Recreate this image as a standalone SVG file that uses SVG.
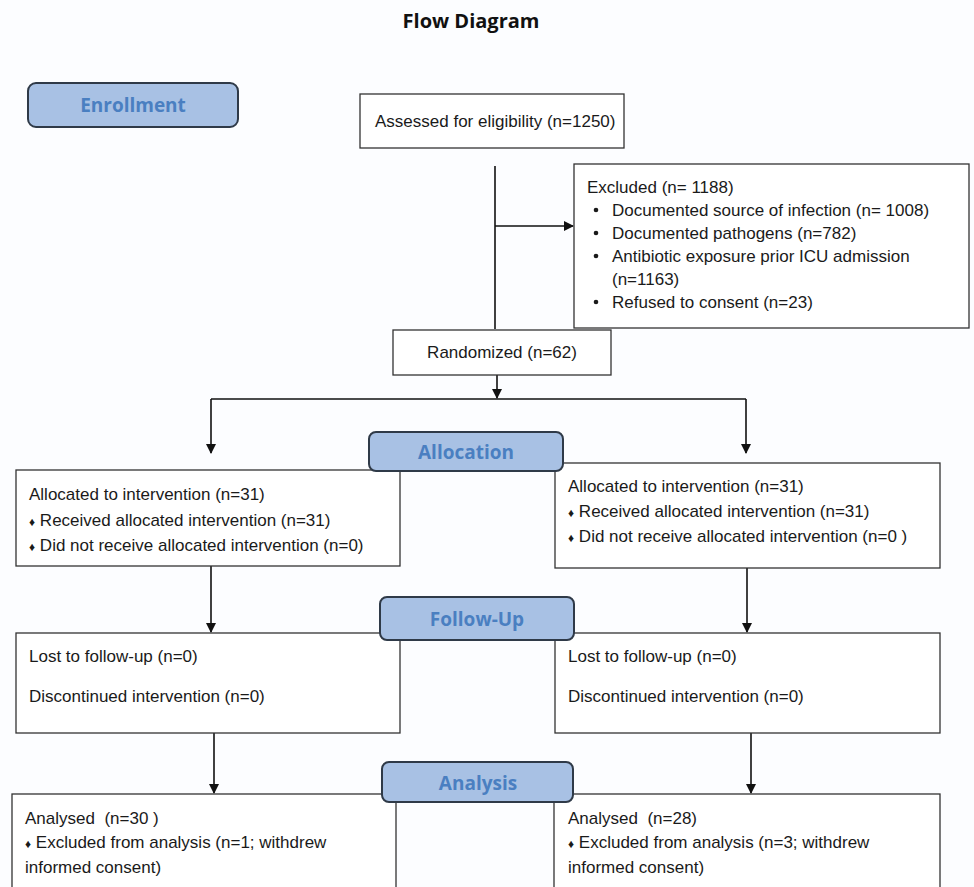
<svg xmlns="http://www.w3.org/2000/svg" width="974" height="887" viewBox="0 0 974 887">
<defs>
<style>
.box{fill:#fff;stroke:#333;stroke-width:1.3}
.lbl{fill:#a8c1e4;stroke:#2f3a48;stroke-width:2}
.lt{font-family:"Open Sans","DejaVu Sans",sans-serif;font-weight:bold;font-size:19px;fill:#4a7fc1;text-anchor:middle}
.t{font-family:"Liberation Sans",Arial,sans-serif;font-size:17px;fill:#1a1a1a}
.d{font-size:12px}
.ln{stroke:#111;stroke-width:1.6;fill:none}
</style>
<marker id="ah" markerWidth="10" markerHeight="10" refX="9" refY="5" orient="auto" markerUnits="userSpaceOnUse">
<path d="M0,0 L10,5 L0,10 Z" fill="#111"/>
</marker>
</defs>
<rect width="974" height="887" fill="#fcfdff"/>
<text x="471" y="28" font-family="'Open Sans','DejaVu Sans',sans-serif" font-weight="bold" font-size="20" fill="#111" text-anchor="middle">Flow Diagram</text>

<g id="connectors">
<path class="ln" d="M495,166 V329"/>
<path class="ln" d="M495,226 H573" marker-end="url(#ah)"/>
<path class="ln" d="M497,375 V398" marker-end="url(#ah)"/>
<path class="ln" d="M211,399 H746"/>
<path class="ln" d="M211,399 V453" marker-end="url(#ah)"/>
<path class="ln" d="M746,399 V453" marker-end="url(#ah)"/>
<path class="ln" d="M211,566 V632" marker-end="url(#ah)"/>
<path class="ln" d="M747,568 V632" marker-end="url(#ah)"/>
<path class="ln" d="M214,733 V793" marker-end="url(#ah)"/>
<path class="ln" d="M751,733 V793" marker-end="url(#ah)"/>
</g>

<g id="assessed">
<rect class="box" x="360" y="94" width="264" height="54"/>
<text class="t" x="375" y="127">Assessed for eligibility (n=1250)</text>
</g>

<g id="excluded">
<rect class="box" x="574" y="164" width="395" height="164"/>
<text class="t" x="587" y="193">Excluded (n= 1188)</text>
<circle cx="596" cy="210" r="2.3" fill="#1a1a1a"/>
<text class="t" x="612" y="216">Documented source of infection (n= 1008)</text>
<circle cx="596" cy="233" r="2.3" fill="#1a1a1a"/>
<text class="t" x="612" y="239">Documented pathogens (n=782)</text>
<circle cx="596" cy="256" r="2.3" fill="#1a1a1a"/>
<text class="t" x="612" y="262">Antibiotic exposure prior ICU admission</text>
<text class="t" x="612" y="285">(n=1163)</text>
<circle cx="596" cy="302" r="2.3" fill="#1a1a1a"/>
<text class="t" x="612" y="308">Refused to consent (n=23)</text>
</g>

<g id="randomized">
<rect class="box" x="393" y="330" width="218" height="45"/>
<text class="t" x="502" y="358" text-anchor="middle">Randomized (n=62)</text>
</g>

<g id="alloc-left">
<rect class="box" x="16" y="470" width="384" height="96"/>
<text class="t" x="29" y="500">Allocated to intervention (n=31)</text>
<text class="t" x="29" y="526"><tspan class="d">♦</tspan> Received allocated intervention (n=31)</text>
<text class="t" x="29" y="551"><tspan class="d">♦</tspan> Did not receive allocated intervention (n=0)</text>
</g>

<g id="alloc-right">
<rect class="box" x="555" y="463" width="385" height="105"/>
<text class="t" x="568" y="492">Allocated to intervention (n=31)</text>
<text class="t" x="568" y="517"><tspan class="d">♦</tspan> Received allocated intervention (n=31)</text>
<text class="t" x="568" y="542"><tspan class="d">♦</tspan> Did not receive allocated intervention (n=0 )</text>
</g>

<g id="follow-left">
<rect class="box" x="16" y="633" width="384" height="100"/>
<text class="t" x="29" y="662">Lost to follow-up (n=0)</text>
<text class="t" x="29" y="702">Discontinued intervention (n=0)</text>
</g>

<g id="follow-right">
<rect class="box" x="555" y="633" width="385" height="100"/>
<text class="t" x="568" y="662">Lost to follow-up (n=0)</text>
<text class="t" x="568" y="702">Discontinued intervention (n=0)</text>
</g>

<g id="analysis-left">
<rect class="box" x="12" y="794" width="384" height="110"/>
<text class="t" x="25" y="824">Analysed&#160; (n=30 )</text>
<text class="t" x="25" y="848"><tspan class="d">♦</tspan> Excluded from analysis (n=1; withdrew</text>
<text class="t" x="25" y="873">informed consent)</text>
</g>

<g id="analysis-right">
<rect class="box" x="554" y="794" width="386" height="110"/>
<text class="t" x="568" y="824">Analysed&#160; (n=28)</text>
<text class="t" x="568" y="848"><tspan class="d">♦</tspan> Excluded from analysis (n=3; withdrew</text>
<text class="t" x="568" y="873">informed consent)</text>
</g>

<g id="label-enrollment">
<rect class="lbl" x="28" y="83" width="210" height="44" rx="8"/>
<text class="lt" x="133" y="112">Enrollment</text>
</g>
<g id="label-allocation">
<rect class="lbl" x="369" y="432" width="194" height="39" rx="7"/>
<text class="lt" x="466" y="459">Allocation</text>
</g>
<g id="label-followup">
<rect class="lbl" x="380" y="597" width="194" height="43" rx="7"/>
<text class="lt" x="477" y="626">Follow-Up</text>
</g>
<g id="label-analysis">
<rect class="lbl" x="382" y="762" width="191" height="40" rx="7"/>
<text class="lt" x="478" y="790">Analysis</text>
</g>
</svg>
